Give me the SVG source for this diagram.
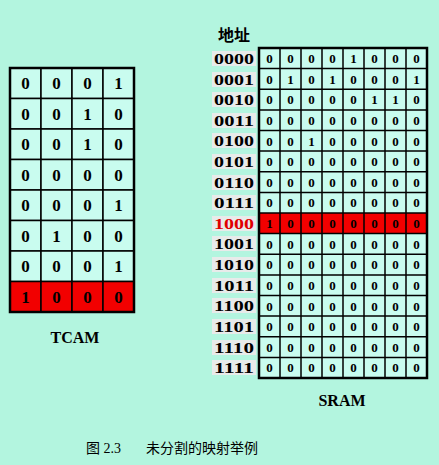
<svg xmlns="http://www.w3.org/2000/svg" width="439" height="465" viewBox="0 0 439 465">
<style>
.bg{fill:#b3f5df}
.cell{fill:#c9fcef;stroke:#000;stroke-width:1.5}
.red{fill:#f20000;stroke:#000;stroke-width:1.5}
.d{font-family:"Liberation Serif",serif;font-weight:bold;text-anchor:middle;fill:#000}
.t{font-size:17px}
.s{font-size:13px}
.lb{fill:#e8ebea}
.a{font-family:"Liberation Serif",serif;font-weight:bold;font-size:15px;fill:#000}
.cap{font-family:"Liberation Serif","Noto Sans CJK SC",serif;font-size:14px;fill:#000}
.ttl{font-family:"Liberation Serif","Noto Sans CJK SC",serif;font-weight:bold;font-size:16px;text-anchor:middle;fill:#000}
</style>
<rect class="bg" x="0" y="0" width="439" height="465"/>
<g id="tcam">
<g id="tcam-r0"><rect class="cell" x="10" y="68" width="31" height="30.5"/><rect class="cell" x="41" y="68" width="31" height="30.5"/><rect class="cell" x="72" y="68" width="31" height="30.5"/><rect class="cell" x="103" y="68" width="31" height="30.5"/>
<text class="d t" x="25.5" y="89">0</text><text class="d t" x="56.5" y="89">0</text><text class="d t" x="87.5" y="89">0</text><text class="d t" x="118.5" y="89">1</text></g>
<g id="tcam-r1"><rect class="cell" x="10" y="98.5" width="31" height="30.5"/><rect class="cell" x="41" y="98.5" width="31" height="30.5"/><rect class="cell" x="72" y="98.5" width="31" height="30.5"/><rect class="cell" x="103" y="98.5" width="31" height="30.5"/>
<text class="d t" x="25.5" y="119.5">0</text><text class="d t" x="56.5" y="119.5">0</text><text class="d t" x="87.5" y="119.5">1</text><text class="d t" x="118.5" y="119.5">0</text></g>
<g id="tcam-r2"><rect class="cell" x="10" y="129" width="31" height="30.5"/><rect class="cell" x="41" y="129" width="31" height="30.5"/><rect class="cell" x="72" y="129" width="31" height="30.5"/><rect class="cell" x="103" y="129" width="31" height="30.5"/>
<text class="d t" x="25.5" y="150">0</text><text class="d t" x="56.5" y="150">0</text><text class="d t" x="87.5" y="150">1</text><text class="d t" x="118.5" y="150">0</text></g>
<g id="tcam-r3"><rect class="cell" x="10" y="159.5" width="31" height="30.5"/><rect class="cell" x="41" y="159.5" width="31" height="30.5"/><rect class="cell" x="72" y="159.5" width="31" height="30.5"/><rect class="cell" x="103" y="159.5" width="31" height="30.5"/>
<text class="d t" x="25.5" y="180.5">0</text><text class="d t" x="56.5" y="180.5">0</text><text class="d t" x="87.5" y="180.5">0</text><text class="d t" x="118.5" y="180.5">0</text></g>
<g id="tcam-r4"><rect class="cell" x="10" y="190" width="31" height="30.5"/><rect class="cell" x="41" y="190" width="31" height="30.5"/><rect class="cell" x="72" y="190" width="31" height="30.5"/><rect class="cell" x="103" y="190" width="31" height="30.5"/>
<text class="d t" x="25.5" y="211">0</text><text class="d t" x="56.5" y="211">0</text><text class="d t" x="87.5" y="211">0</text><text class="d t" x="118.5" y="211">1</text></g>
<g id="tcam-r5"><rect class="cell" x="10" y="220.5" width="31" height="30.5"/><rect class="cell" x="41" y="220.5" width="31" height="30.5"/><rect class="cell" x="72" y="220.5" width="31" height="30.5"/><rect class="cell" x="103" y="220.5" width="31" height="30.5"/>
<text class="d t" x="25.5" y="241.5">0</text><text class="d t" x="56.5" y="241.5">1</text><text class="d t" x="87.5" y="241.5">0</text><text class="d t" x="118.5" y="241.5">0</text></g>
<g id="tcam-r6"><rect class="cell" x="10" y="251" width="31" height="30.5"/><rect class="cell" x="41" y="251" width="31" height="30.5"/><rect class="cell" x="72" y="251" width="31" height="30.5"/><rect class="cell" x="103" y="251" width="31" height="30.5"/>
<text class="d t" x="25.5" y="272">0</text><text class="d t" x="56.5" y="272">0</text><text class="d t" x="87.5" y="272">0</text><text class="d t" x="118.5" y="272">1</text></g>
<g id="tcam-r7"><rect class="red" x="10" y="281.5" width="31" height="30.5"/><rect class="red" x="41" y="281.5" width="31" height="30.5"/><rect class="red" x="72" y="281.5" width="31" height="30.5"/><rect class="red" x="103" y="281.5" width="31" height="30.5"/>
<text class="d t" x="25.5" y="302.5">1</text><text class="d t" x="56.5" y="302.5">0</text><text class="d t" x="87.5" y="302.5">0</text><text class="d t" x="118.5" y="302.5">0</text></g>
<rect x="10" y="68" width="124" height="244" fill="none" stroke="#000" stroke-width="2.5"/>
</g>
<text id="tcam-label" class="ttl" x="75" y="343">TCAM</text>
<g id="addr-title"><text class="ttl" x="234" y="41">地址</text></g>
<g id="addresses">
<rect class="lb" x="212" y="51" width="44" height="15"/><text class="a" x="214" y="64" textLength="40" lengthAdjust="spacingAndGlyphs">0000</text>
<rect class="lb" x="212" y="72" width="44" height="15"/><text class="a" x="214" y="85" textLength="40" lengthAdjust="spacingAndGlyphs">0001</text>
<rect class="lb" x="212" y="92" width="44" height="15"/><text class="a" x="214" y="105" textLength="40" lengthAdjust="spacingAndGlyphs">0010</text>
<rect class="lb" x="212" y="113" width="44" height="15"/><text class="a" x="214" y="126" textLength="40" lengthAdjust="spacingAndGlyphs">0011</text>
<rect class="lb" x="212" y="133" width="44" height="15"/><text class="a" x="214" y="146" textLength="40" lengthAdjust="spacingAndGlyphs">0100</text>
<rect class="lb" x="212" y="154" width="44" height="15"/><text class="a" x="214" y="167" textLength="40" lengthAdjust="spacingAndGlyphs">0101</text>
<rect class="lb" x="212" y="175" width="44" height="15"/><text class="a" x="214" y="188" textLength="40" lengthAdjust="spacingAndGlyphs">0110</text>
<rect class="lb" x="212" y="195" width="44" height="15"/><text class="a" x="214" y="208" textLength="40" lengthAdjust="spacingAndGlyphs">0111</text>
<rect class="lb" x="212" y="216" width="44" height="15"/><text class="a" x="214" y="229" textLength="40" lengthAdjust="spacingAndGlyphs" style="fill:#e00000">1000</text>
<rect class="lb" x="212" y="236" width="44" height="15"/><text class="a" x="214" y="249" textLength="40" lengthAdjust="spacingAndGlyphs">1001</text>
<rect class="lb" x="212" y="257" width="44" height="15"/><text class="a" x="214" y="270" textLength="40" lengthAdjust="spacingAndGlyphs">1010</text>
<rect class="lb" x="212" y="278" width="44" height="15"/><text class="a" x="214" y="291" textLength="40" lengthAdjust="spacingAndGlyphs">1011</text>
<rect class="lb" x="212" y="298" width="44" height="15"/><text class="a" x="214" y="311" textLength="40" lengthAdjust="spacingAndGlyphs">1100</text>
<rect class="lb" x="212" y="319" width="44" height="15"/><text class="a" x="214" y="332" textLength="40" lengthAdjust="spacingAndGlyphs">1101</text>
<rect class="lb" x="212" y="340" width="44" height="15"/><text class="a" x="214" y="353" textLength="40" lengthAdjust="spacingAndGlyphs">1110</text>
<rect class="lb" x="212" y="360" width="44" height="15"/><text class="a" x="214" y="373" textLength="40" lengthAdjust="spacingAndGlyphs">1111</text>
</g>
<g id="sram">
<rect x="259" y="48" width="168" height="330" fill="#c9fcef"/>
<rect x="259" y="213" width="168" height="20.6" fill="#f20000"/>
<g id="sram-grid" stroke="#000" stroke-width="1.5" fill="none">
<path d="M259 68.6H427M259 89.3H427M259 109.9H427M259 130.5H427M259 151.1H427M259 171.8H427M259 192.4H427M259 213H427M259 233.6H427M259 254.3H427M259 274.9H427M259 295.5H427M259 316.1H427M259 336.8H427M259 357.4H427"/>
<path d="M280 48V378M301 48V378M322 48V378M343 48V378M364 48V378M385 48V378M406 48V378"/>
</g>
<rect x="259" y="48" width="168" height="330" fill="none" stroke="#000" stroke-width="2.5"/>
<g id="sram-bits">
<text class="d s" x="269.5" y="63">0</text><text class="d s" x="290.5" y="63">0</text><text class="d s" x="311.5" y="63">0</text><text class="d s" x="332.5" y="63">0</text><text class="d s" x="353.5" y="63">1</text><text class="d s" x="374.5" y="63">0</text><text class="d s" x="395.5" y="63">0</text><text class="d s" x="416.5" y="63">0</text>
<text class="d s" x="269.5" y="83.6">0</text><text class="d s" x="290.5" y="83.6">1</text><text class="d s" x="311.5" y="83.6">0</text><text class="d s" x="332.5" y="83.6">1</text><text class="d s" x="353.5" y="83.6">0</text><text class="d s" x="374.5" y="83.6">0</text><text class="d s" x="395.5" y="83.6">0</text><text class="d s" x="416.5" y="83.6">1</text>
<text class="d s" x="269.5" y="104.3">0</text><text class="d s" x="290.5" y="104.3">0</text><text class="d s" x="311.5" y="104.3">0</text><text class="d s" x="332.5" y="104.3">0</text><text class="d s" x="353.5" y="104.3">0</text><text class="d s" x="374.5" y="104.3">1</text><text class="d s" x="395.5" y="104.3">1</text><text class="d s" x="416.5" y="104.3">0</text>
<text class="d s" x="269.5" y="124.9">0</text><text class="d s" x="290.5" y="124.9">0</text><text class="d s" x="311.5" y="124.9">0</text><text class="d s" x="332.5" y="124.9">0</text><text class="d s" x="353.5" y="124.9">0</text><text class="d s" x="374.5" y="124.9">0</text><text class="d s" x="395.5" y="124.9">0</text><text class="d s" x="416.5" y="124.9">0</text>
<text class="d s" x="269.5" y="145.5">0</text><text class="d s" x="290.5" y="145.5">0</text><text class="d s" x="311.5" y="145.5">1</text><text class="d s" x="332.5" y="145.5">0</text><text class="d s" x="353.5" y="145.5">0</text><text class="d s" x="374.5" y="145.5">0</text><text class="d s" x="395.5" y="145.5">0</text><text class="d s" x="416.5" y="145.5">0</text>
<text class="d s" x="269.5" y="166.1">0</text><text class="d s" x="290.5" y="166.1">0</text><text class="d s" x="311.5" y="166.1">0</text><text class="d s" x="332.5" y="166.1">0</text><text class="d s" x="353.5" y="166.1">0</text><text class="d s" x="374.5" y="166.1">0</text><text class="d s" x="395.5" y="166.1">0</text><text class="d s" x="416.5" y="166.1">0</text>
<text class="d s" x="269.5" y="186.8">0</text><text class="d s" x="290.5" y="186.8">0</text><text class="d s" x="311.5" y="186.8">0</text><text class="d s" x="332.5" y="186.8">0</text><text class="d s" x="353.5" y="186.8">0</text><text class="d s" x="374.5" y="186.8">0</text><text class="d s" x="395.5" y="186.8">0</text><text class="d s" x="416.5" y="186.8">0</text>
<text class="d s" x="269.5" y="207.4">0</text><text class="d s" x="290.5" y="207.4">0</text><text class="d s" x="311.5" y="207.4">0</text><text class="d s" x="332.5" y="207.4">0</text><text class="d s" x="353.5" y="207.4">0</text><text class="d s" x="374.5" y="207.4">0</text><text class="d s" x="395.5" y="207.4">0</text><text class="d s" x="416.5" y="207.4">0</text>
<text class="d s" x="269.5" y="228">1</text><text class="d s" x="290.5" y="228">0</text><text class="d s" x="311.5" y="228">0</text><text class="d s" x="332.5" y="228">0</text><text class="d s" x="353.5" y="228">0</text><text class="d s" x="374.5" y="228">0</text><text class="d s" x="395.5" y="228">0</text><text class="d s" x="416.5" y="228">0</text>
<text class="d s" x="269.5" y="248.6">0</text><text class="d s" x="290.5" y="248.6">0</text><text class="d s" x="311.5" y="248.6">0</text><text class="d s" x="332.5" y="248.6">0</text><text class="d s" x="353.5" y="248.6">0</text><text class="d s" x="374.5" y="248.6">0</text><text class="d s" x="395.5" y="248.6">0</text><text class="d s" x="416.5" y="248.6">0</text>
<text class="d s" x="269.5" y="269.3">0</text><text class="d s" x="290.5" y="269.3">0</text><text class="d s" x="311.5" y="269.3">0</text><text class="d s" x="332.5" y="269.3">0</text><text class="d s" x="353.5" y="269.3">0</text><text class="d s" x="374.5" y="269.3">0</text><text class="d s" x="395.5" y="269.3">0</text><text class="d s" x="416.5" y="269.3">0</text>
<text class="d s" x="269.5" y="289.9">0</text><text class="d s" x="290.5" y="289.9">0</text><text class="d s" x="311.5" y="289.9">0</text><text class="d s" x="332.5" y="289.9">0</text><text class="d s" x="353.5" y="289.9">0</text><text class="d s" x="374.5" y="289.9">0</text><text class="d s" x="395.5" y="289.9">0</text><text class="d s" x="416.5" y="289.9">0</text>
<text class="d s" x="269.5" y="310.5">0</text><text class="d s" x="290.5" y="310.5">0</text><text class="d s" x="311.5" y="310.5">0</text><text class="d s" x="332.5" y="310.5">0</text><text class="d s" x="353.5" y="310.5">0</text><text class="d s" x="374.5" y="310.5">0</text><text class="d s" x="395.5" y="310.5">0</text><text class="d s" x="416.5" y="310.5">0</text>
<text class="d s" x="269.5" y="331.1">0</text><text class="d s" x="290.5" y="331.1">0</text><text class="d s" x="311.5" y="331.1">0</text><text class="d s" x="332.5" y="331.1">0</text><text class="d s" x="353.5" y="331.1">0</text><text class="d s" x="374.5" y="331.1">0</text><text class="d s" x="395.5" y="331.1">0</text><text class="d s" x="416.5" y="331.1">0</text>
<text class="d s" x="269.5" y="351.8">0</text><text class="d s" x="290.5" y="351.8">0</text><text class="d s" x="311.5" y="351.8">0</text><text class="d s" x="332.5" y="351.8">0</text><text class="d s" x="353.5" y="351.8">0</text><text class="d s" x="374.5" y="351.8">0</text><text class="d s" x="395.5" y="351.8">0</text><text class="d s" x="416.5" y="351.8">0</text>
<text class="d s" x="269.5" y="372.4">0</text><text class="d s" x="290.5" y="372.4">0</text><text class="d s" x="311.5" y="372.4">0</text><text class="d s" x="332.5" y="372.4">0</text><text class="d s" x="353.5" y="372.4">0</text><text class="d s" x="374.5" y="372.4">0</text><text class="d s" x="395.5" y="372.4">0</text><text class="d s" x="416.5" y="372.4">0</text>
</g>
</g>
<text id="sram-label" class="ttl" x="342" y="406">SRAM</text>
<g id="connectors"/>
<g id="caption">
<text class="cap" x="86" y="453">图 2.3</text>
<text class="cap" x="146" y="453">未分割的映射举例</text>
</g>
</svg>
